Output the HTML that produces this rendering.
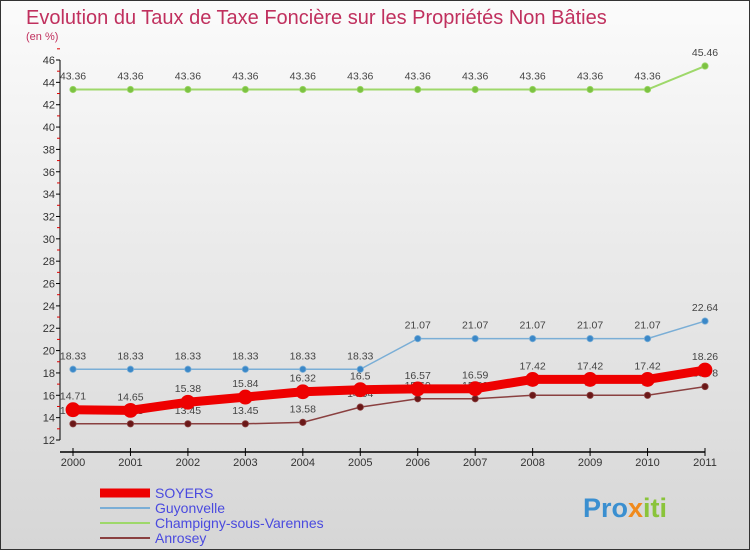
<!DOCTYPE html>
<html><head><meta charset="utf-8"><style>
body{margin:0;}
#c{width:750px;height:550px;position:relative;overflow:hidden;font-family:"Liberation Sans","DejaVu Sans",sans-serif;}
</style></head><body>
<div id="c">
<svg id="s" width="750" height="550" xmlns="http://www.w3.org/2000/svg" font-family="Liberation Sans, DejaVu Sans, sans-serif">
<defs><linearGradient id="bg" x1="0" y1="0" x2="0" y2="1"><stop offset="0" stop-color="#fbfbfb"/><stop offset="1" stop-color="#d6d6d6"/></linearGradient></defs>
<rect x="0.5" y="0.5" width="749" height="549" fill="url(#bg)" stroke="#333"/>
<text x="26" y="24" font-size="20" fill="#c0305e">Evolution du Taux de Taxe Foncière sur les Propriétés Non Bâties</text>
<text x="26" y="40" font-size="11" fill="#c0305e">(en %)</text>
<g id="axes"></g><g id="series"></g><g id="legend"></g>
<text x="583" y="517" font-size="27" font-weight="bold" fill="#3a8fd0">Pro<tspan fill="#f08a1c">x</tspan><tspan fill="#8ac43a">iti</tspan></text>
</svg></div>
<script>
const years=[2000,2001,2002,2003,2004,2005,2006,2007,2008,2009,2010,2011];
const soyers=[14.71,14.65,15.38,15.84,16.32,16.5,16.57,16.59,17.42,17.42,17.42,18.26];
const guyonvelle=[18.33,18.33,18.33,18.33,18.33,18.33,21.07,21.07,21.07,21.07,21.07,22.64];
const champigny=[43.36,43.36,43.36,43.36,43.36,43.36,43.36,43.36,43.36,43.36,43.36,45.46];
const anrosey=[13.45,13.45,13.45,13.45,13.58,14.94,15.69,15.69,16,16,16,16.78];
const yTicks=[12,14,16,18,20,22,24,26,28,30,32,34,36,38,40,42,44,46];
const seriesNames=["SOYERS","Guyonvelle","Champigny-sous-Varennes","Anrosey"];
const NS="http://www.w3.org/2000/svg";
const x=i=>73+i*(705-73)/(years.length-1);
const y=v=>440-(v-12)*(380/34);
function mk(t,a,p){const e=document.createElementNS(NS,t);for(const k in a)e.setAttribute(k,a[k]);p.appendChild(e);return e;}
const ax=document.getElementById('axes');
let l=mk('line',{x1:60,y1:y(46),x2:60,y2:y(12),stroke:'#000'},ax);


l=mk('line',{x1:60,y1:452,x2:705,y2:452,stroke:'#000',"stroke-width":1.5},ax);


yTicks.forEach(v=>{
 mk('line',{x1:56,y1:y(v),x2:60,y2:y(v),stroke:'#000'},ax);
 mk('line',{x1:57,y1:y(v+1),x2:60,y2:y(v+1),stroke:'#d00'},ax);
 const t=mk('text',{x:55,y:y(v)+4,"font-size":11,fill:'#333',"text-anchor":'end'},ax);t.textContent=v;
 
 
});
years.forEach((yr,i)=>{
 mk('line',{x1:x(i),y1:448,x2:x(i),y2:456,stroke:'#000'},ax);
 const t=mk('text',{x:x(i),y:466,"font-size":11,fill:'#333',"text-anchor":'middle'},ax);t.textContent=yr;
 
 
});
const sg=document.getElementById('series');
function draw(data,color,lw,r,name,dot){
 const g=mk('g',{},sg);
 
 
 mk('polyline',{points:data.map((v,i)=>x(i)+','+y(v)).join(' '),fill:'none',stroke:color,"stroke-width":lw},g);
 data.forEach((v,i)=>{
  const c=mk('circle',{cx:x(i),cy:y(v),r:r,fill:dot,stroke:color,"stroke-width":0.8},g);
  
  
  const t=mk('text',{x:x(i),y:y(v)-10,"font-size":10.5,fill:'#444',"text-anchor":'middle'},g);t.textContent=v;
  
  
 });
}
draw(champigny,'#9ed86a',2,3.2,'champigny','#7cc242');
draw(guyonvelle,'#7aaed6',1.5,3.2,'guyonvelle','#3b88c8');
draw(anrosey,'#8a4040',1.5,3.2,'anrosey','#6a1818');
draw(soyers,'#ee0000',9,7,'soyers','#ee0000');
const lg=document.getElementById('legend');
const lc=['#ee0000','#7aaed6','#9ed86a','#8a4040'],lw=[9,2,2,2];
seriesNames.forEach((n,i)=>{
 const yy=493+i*15;
 mk('line',{x1:100,y1:yy,x2:150,y2:yy,stroke:lc[i],"stroke-width":lw[i]},lg);
 const t=mk('text',{x:155,y:yy+5,"font-size":14,fill:'#4a4adf'},lg);t.textContent=n;
 
 
});
</script>
</body></html>
